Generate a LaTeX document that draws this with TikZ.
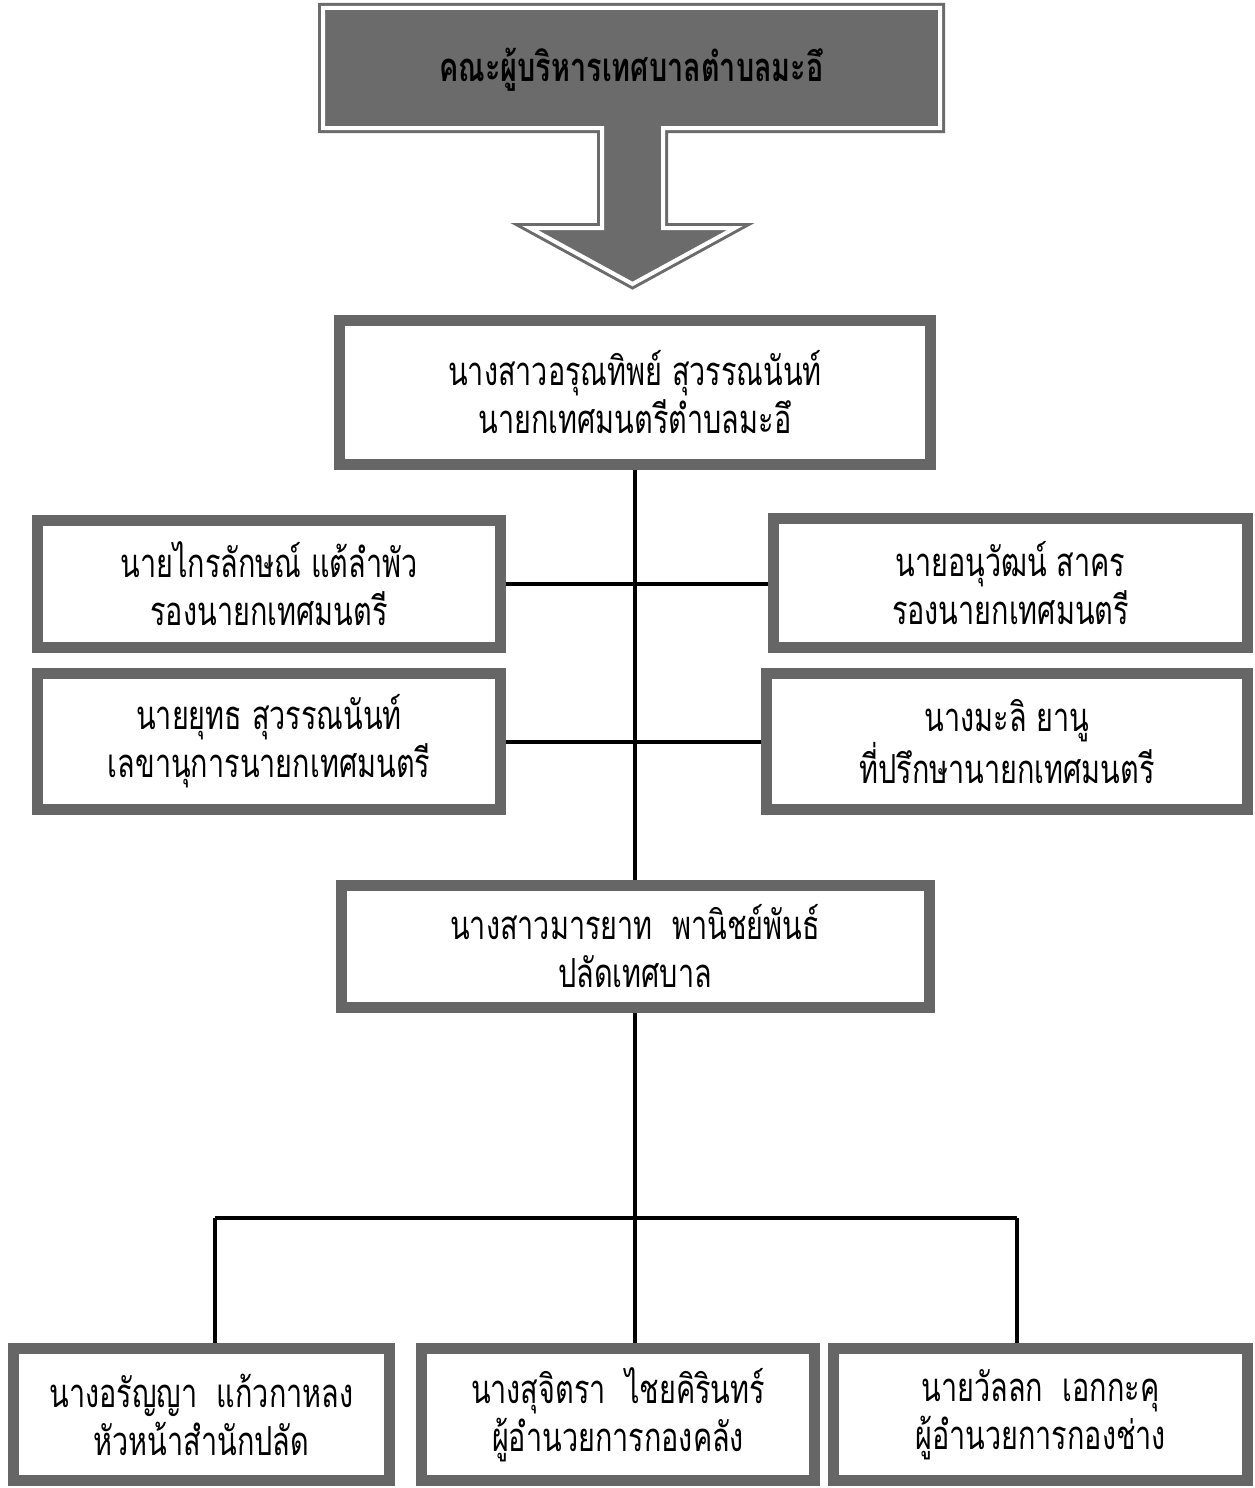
\documentclass[tikz,border=0pt]{standalone}
\usepackage{fontspec}
\newfontfamily\thaifont[Script=Thai,FakeStretch=0.72]{Loma}
\usetikzlibrary{positioning,backgrounds}

\tikzset{
  postbox/.style={draw=black!60, line width=11pt, fill=white, align=center,
    inner sep=0pt, font=\thaifont\fontsize{40}{48}\selectfont},
  link/.style={line width=4pt}
}

\begin{document}
\begin{tikzpicture}[x=1pt,y=-1pt]
  \useasboundingbox (0,0) rectangle (1255,1488);

  % board arrow at the top
  \filldraw[fill=black!58, draw=black!58, line width=3pt, double=white,
    double distance=4pt]
    (323,8) -- (940,8) -- (940,128) -- (663,128) -- (663,228) -- (735,228)
    -- (632.5,284) -- (530,228) -- (602,228) -- (602,128) -- (323,128) -- cycle;
  \node[font=\thaifont\bfseries\fontsize{40}{40}\selectfont] (board) at (631.5,70)
    {คณะผู้บริหารเทศบาลตำบลมะอึ};

  \node[postbox, minimum width=591pt, minimum height=144pt] (mayor) at (635,392)
    {นางสาวอรุณทิพย์ สุวรรณนันท์\\นายกเทศมนตรีตำบลมะอึ};

  \node[postbox, minimum width=463pt, minimum height=127pt] (deputyA) at (269,584)
    {นายไกรลักษณ์ แต้ลำพัว\\รองนายกเทศมนตรี};
  \node[postbox, minimum width=474pt, minimum height=129pt] (deputyB) at (1010.5,583)
    {นายอนุวัฒน์ สาคร\\รองนายกเทศมนตรี};
  \node[postbox, minimum width=463pt, minimum height=136pt] (secretary) at (269,741.5)
    {นายยุทธ สุวรรณนันท์\\เลขานุการนายกเทศมนตรี};
  \node[postbox, minimum width=481pt, minimum height=136pt] (advisor) at (1007,741.5)
    {นางมะลิ ยานู\\ที่ปรึกษานายกเทศมนตรี};

  \node[postbox, minimum width=588pt, minimum height=122pt] (clerk) at (635,946.5)
    {นางสาวมารยาท~~พานิชย์พันธ์\\ปลัดเทศบาล};

  \node[postbox, minimum width=376pt, minimum height=132pt] (office) at (201.5,1414.5)
    {นางอรัญญา~~แก้วกาหลง\\หัวหน้าสำนักปลัด};
  \node[postbox, minimum width=393pt, minimum height=132pt] (finance) at (618,1414.5)
    {นางสุจิตรา~~ไชยคิรินทร์\\ผู้อำนวยการกองคลัง};
  \node[postbox, minimum width=414pt, minimum height=132pt] (works) at (1040.5,1414.5)
    {นายวัลลก~~เอกกะคุ\\ผู้อำนวยการกองช่าง};

  \coordinate (fork) at (635,1218);
  \coordinate (forkL) at (215,1218);
  \coordinate (forkR) at (1017,1218);

  \begin{scope}[on background layer]
    \draw[link] (mayor.south) -- (clerk.north);
    \draw[link] (deputyA.east) -- (deputyA.east -| deputyB.west);
    \draw[link] (secretary.east) -- (secretary.east -| advisor.west);
    \draw[link] (clerk.south) -- (fork);
    \draw[link] (forkL) -- (forkR);
    \draw[link] (forkL) -- (forkL |- office.north);
    \draw[link] (fork) -- (finance.north -| fork);
    \draw[link] (forkR) -- (forkR |- works.north);
  \end{scope}
\end{tikzpicture}
\end{document}
